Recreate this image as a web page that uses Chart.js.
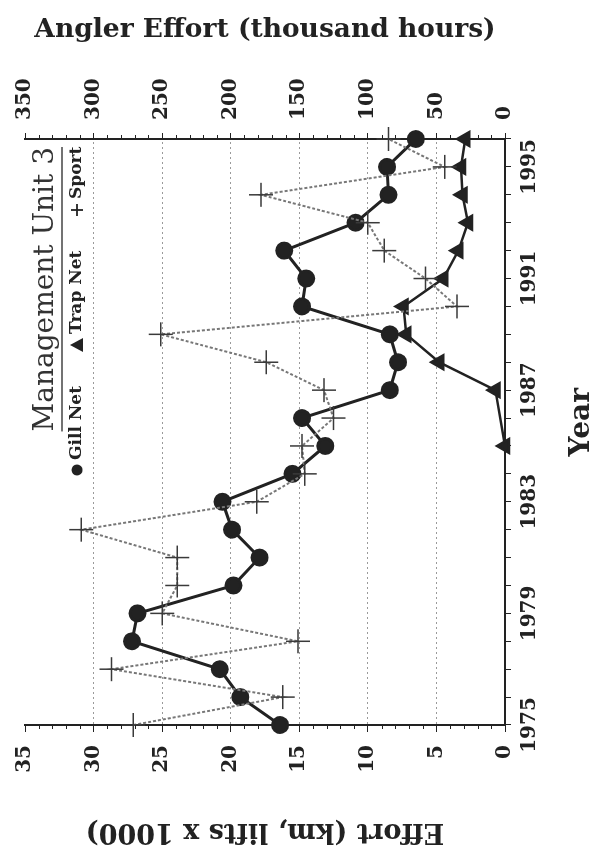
<!DOCTYPE html>
<html>
<head>
<meta charset="utf-8">
<script src="https://cdn.jsdelivr.net/npm/chart.js@4/dist/chart.umd.min.js"></script>
<style>
  html, body { margin: 0; padding: 0; background: #fff; overflow: hidden; }
  body { width: 608px; height: 855px; position: relative; }
  /* the chart is laid out landscape and turned a quarter turn */
  #wrap {
    position: absolute; left: 0; top: 0;
    width: 855px; height: 608px;
    transform-origin: 0 0;
    transform: translate(0, 855px) rotate(-90deg);
  }
</style>
</head>
<body>
<div id="wrap"><canvas id="chart" width="855" height="608"></canvas></div>
<script>
const years = [1975, 1976, 1977, 1978, 1979, 1980, 1981, 1982, 1983, 1984, 1985,
               1986, 1987, 1988, 1989, 1990, 1991, 1992, 1993, 1994, 1995, 1996];

// km of net / lifts, thousands
const gillNet = [16.4, 19.3, 20.8, 27.2, 26.8, 19.8, 17.9, 19.9, 20.6, 15.5, 13.1,
                 14.8, 8.4, 7.8, 8.4, 14.8, 14.5, 16.1, 10.9, 8.5, 8.6, 6.5];
const trapNet = [null, null, null, null, null, null, null, null, null, null, 0,
                 null, 0.7, 4.8, 7.2, 7.4, 4.5, 3.4, 2.7, 3.1, 3.2, 2.9];

// angler hours, thousands
const sport = [271, 162, 287, 151, 250, 239, 239, 309, 181, 146, 148,
               125, 132, 174, 251, 35, 58, 88, 100, 178, 44, 85];

const effortTicks = [0, 5, 10, 15, 20, 25, 30, 35];
const anglerTicks = [0, 50, 100, 150, 200, 250, 300, 350];

const SERIF = '"DejaVu Serif", "Liberation Serif", serif';
const INK = '#222';

function line(ctx, x1, y1, x2, y2) {
  ctx.beginPath();
  ctx.moveTo(x1, y1);
  ctx.lineTo(x2, y2);
  ctx.stroke();
}

// minor ticks and the legend block
const decorations = {
  id: 'decorations',
  afterDraw(chart) {
    const { ctx, chartArea: a, scales } = chart;
    ctx.save();
    ctx.strokeStyle = INK;
    ctx.lineWidth = 1;
    for (let v = 0; v <= 35; v++) {
      if (v % 5 === 0) continue;
      const p = Math.round(scales.y.getPixelForValue(v)) + 0.5;
      line(ctx, a.left - 4, p, a.left, p);
    }
    for (let v = 0; v <= 350; v += 10) {
      if (v % 50 === 0) continue;
      const p = Math.round(scales.y2.getPixelForValue(v)) + 0.5;
      line(ctx, a.right, p, a.right + 4, p);
    }

    // heading
    ctx.fillStyle = '#333';
    ctx.font = '28px ' + SERIF;
    ctx.textBaseline = 'middle';
    const head = 'Management Unit 3';
    const hw = ctx.measureText(head).width;
    const hx = a.right - 8 - hw;
    ctx.fillText(head, hx, a.top + 21);
    ctx.lineWidth = 1.5;
    ctx.strokeStyle = '#444';
    line(ctx, hx, a.top + 37, hx + hw, a.top + 37);

    // key
    const ky = a.top + 52;
    ctx.font = 'bold 17px ' + SERIF;
    ctx.fillStyle = INK;
    ctx.beginPath();
    ctx.arc(a.right - 331, ky, 5.5, 0, Math.PI * 2);
    ctx.fill();
    ctx.fillText('Gill Net', a.right - 321, ky);
    const tx = a.right - 206;
    ctx.beginPath();
    ctx.moveTo(tx, ky - 7);
    ctx.lineTo(tx + 7, ky + 6);
    ctx.lineTo(tx - 7, ky + 6);
    ctx.closePath();
    ctx.fill();
    ctx.fillText('Trap Net', a.right - 195, ky);
    const px = a.right - 71;
    ctx.lineWidth = 1.8;
    ctx.strokeStyle = INK;
    line(ctx, px - 6, ky, px + 6, ky);
    line(ctx, px, ky - 6, px, ky + 6);
    ctx.fillText('Sport', a.right - 60, ky);
    ctx.restore();
  }
};

new Chart(document.getElementById('chart').getContext('2d'), {
  type: 'line',
  data: {
    labels: years,
    datasets: [
      {
        label: 'Sport',
        data: sport,
        yAxisID: 'y2',
        borderColor: '#777',
        borderWidth: 2,
        borderDash: [3, 2],
        pointStyle: 'cross',
        pointRadius: 12,
        pointBorderWidth: 1.5,
        pointBorderColor: '#3a3a3a',
        tension: 0,
      },
      {
        label: 'Trap Net',
        data: trapNet,
        yAxisID: 'y',
        spanGaps: true,
        borderColor: INK,
        borderWidth: 2.5,
        pointStyle: 'triangle',
        pointRadius: 8,
        pointBackgroundColor: INK,
        pointBorderColor: INK,
        tension: 0,
      },
      {
        label: 'Gill Net',
        data: gillNet,
        yAxisID: 'y',
        borderColor: INK,
        borderWidth: 3,
        pointStyle: 'circle',
        pointRadius: 7.5,
        pointBackgroundColor: INK,
        pointBorderColor: INK,
        tension: 0,
      },
    ],
  },
  options: {
    responsive: false,
    animation: false,
    clip: false,
    layout: { padding: { top: 19, left: 0, right: 0, bottom: 0 } },
    plugins: { legend: { display: false }, tooltip: { enabled: false } },
    scales: {
      x: {
        type: 'category',
        offset: false,
        grid: { drawOnChartArea: false, tickLength: 6, color: INK },
        border: { color: INK, width: 2 },
        ticks: {
          autoSkip: false,
          maxRotation: 0,
          padding: 7,
          color: INK,
          font: { family: SERIF, size: 20, weight: 'bold' },
          callback: (v, i) => (i % 4 === 0 ? years[i] : ''),
        },
        title: {
          display: true,
          text: '  Year',
          color: INK,
          font: { family: SERIF, size: 28, weight: 'bold' },
          padding: { top: 0, bottom: 9 },
        },
        afterFit: (s) => { s.height = 103; },
      },
      y: {
        position: 'left',
        min: 0,
        max: 35,
        afterBuildTicks: (s) => { s.ticks = effortTicks.map((v) => ({ value: v })); },
        grid: {
          tickLength: 7,
          color: (c) => (c.tick && (c.tick.value === 0 || c.tick.value === 35) ? 'rgba(0,0,0,0)' : '#9a9a9a'),
          tickColor: INK,
        },
        border: { color: INK, width: 2, dash: [2, 3] },
        ticks: {
          padding: 13,
          color: INK,
          font: { family: SERIF, size: 20, weight: 'bold' },
        },
        title: {
          display: true,
          text: 'Effort (km, lifts x 1000)',
          color: INK,
          font: { family: SERIF, size: 27, weight: 'bold' },
          padding: { top: 8, bottom: 0 },
        },
        afterFit: (s) => { s.width = 130; },
      },
      y2: {
        position: 'right',
        min: 0,
        max: 350,
        afterBuildTicks: (s) => { s.ticks = anglerTicks.map((v) => ({ value: v })); },
        grid: { drawOnChartArea: false, tickLength: 6, color: INK },
        border: { color: INK, width: 2 },
        ticks: {
          padding: 13,
          color: INK,
          font: { family: SERIF, size: 20, weight: 'bold' },
        },
        title: {
          display: true,
          text: 'Angler Effort (thousand hours)',
          color: INK,
          font: { family: SERIF, size: 26.5, weight: 'bold' },
          padding: { top: 14, bottom: 0 },
        },
        afterFit: (s) => { s.width = 139; },
      },
    },
  },
  plugins: [decorations],
});
</script>
</body>
</html>
